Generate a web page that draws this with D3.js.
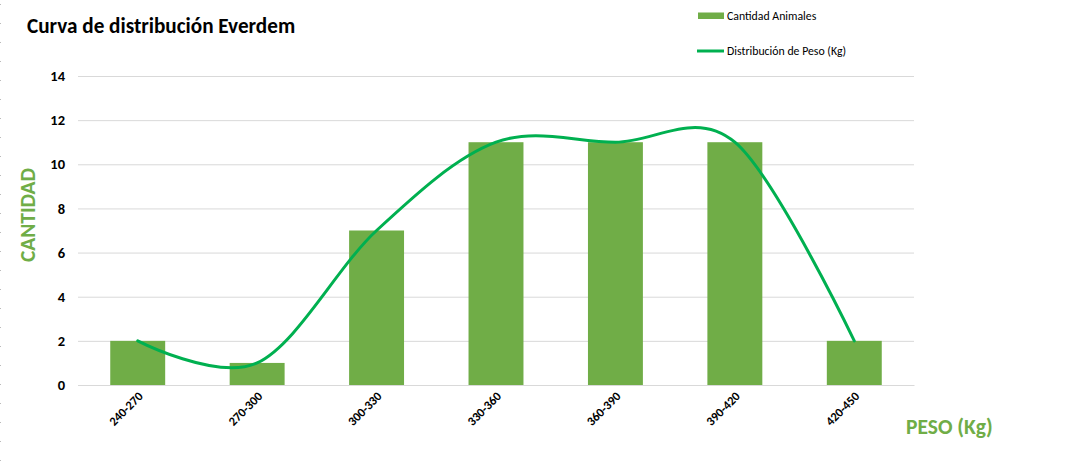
<!DOCTYPE html>
<html><head><meta charset="utf-8">
<script src="https://cdn.jsdelivr.net/npm/d3@7"></script>
<style>html,body{margin:0;padding:0;background:#fff;}svg{display:block;}</style>
</head><body>
<svg id="c" width="1089" height="471"></svg>
<script>
const categories = ["240-270","270-300","300-330","330-360","360-390","390-420","420-450"];
const cantidadAnimales = [2,1,7,11,11,11,2];
const distribucionPeso = [2,1,7,11,11,11,2];
const yTicks = [0,2,4,6,8,10,12,14];
const title = "Curva de distribución Everdem";
const seriesNames = ["Cantidad Animales","Distribución de Peso (Kg)"];

const W = 1089, H = 471;
const m = {left:78, right:914, top:76, bottom:385};
const svg = d3.select("#c");
const font = "Calibri, Carlito, 'Open Sans', sans-serif";

const x = d3.scaleBand().domain(categories).range([m.left, m.right]).paddingInner(0.54).paddingOuter(0.27);
const y = d3.scaleLinear().domain([0,14]).range([m.bottom, m.top]);

// left dotted edge
svg.append("line").attr("x1",0.5).attr("x2",0.5).attr("y1",0).attr("y2",H)
  .attr("stroke","#bbb").attr("stroke-dasharray","1 18").attr("stroke-dashoffset",-4);

// gridlines
const gy = svg.append("g").attr("transform",`translate(${m.left},0)`)
  .call(d3.axisLeft(y).tickValues(yTicks).tickSize(-(m.right-m.left)).tickFormat(d3.format("d")).tickPadding(13));
gy.select(".domain").remove();
gy.selectAll(".tick line").attr("stroke","#d9d9d9").attr("stroke-width",1);
gy.selectAll(".tick text").attr("font-family",font).attr("font-weight","bold").attr("font-size",14.5).attr("fill","#000");

// bars
svg.append("g").selectAll("rect").data(categories).join("rect")
  .attr("x", d=>x(d)).attr("width", x.bandwidth())
  .attr("y", (d,i)=>y(cantidadAnimales[i]))
  .attr("height",(d,i)=>y(0)-y(cantidadAnimales[i]))
  .attr("fill","#70AD47");

// x axis
const gx = svg.append("g").attr("transform",`translate(0,${m.bottom})`)
  .call(d3.axisBottom(x).tickSize(0).tickPadding(0));
gx.select(".domain").attr("stroke","#d9d9d9");
gx.selectAll(".tick text")
  .attr("font-family",font).attr("font-weight","bold").attr("font-size",12.5).attr("fill","#000")
  .attr("text-anchor","end").attr("dy",0).attr("y",0)
  .attr("transform","translate(6,12) rotate(-45)");

// smoothed line
const line = d3.line().x((d,i)=>x(categories[i])+x.bandwidth()/2).y(d=>y(d)).curve(d3.curveCardinal.tension(0));
svg.append("path").datum(distribucionPeso).attr("d",line)
  .attr("fill","none").attr("stroke","#00B050").attr("stroke-width",3).attr("stroke-linecap","round");

// title
svg.append("text").attr("x",27).attr("y",33).text(title)
  .attr("font-family",font).attr("font-weight","bold").attr("font-size",21.2).attr("fill","#000");

// axis titles
svg.append("text").attr("transform","translate(35,215) rotate(-90)").attr("text-anchor","middle")
  .text("CANTIDAD").attr("font-family",font).attr("font-weight","bold").attr("font-size",21.4).attr("fill","#70AD47");
svg.append("text").attr("x",906).attr("y",434).text("PESO (Kg)")
  .attr("font-family",font).attr("font-weight","bold").attr("font-size",21.5).attr("fill","#70AD47");

// legend
const lg = svg.append("g");
lg.append("rect").attr("x",698).attr("y",12.5).attr("width",26).attr("height",6.5).attr("fill","#70AD47");
lg.append("text").attr("x",727).attr("y",19.5).text(seriesNames[0])
  .attr("font-family",font).attr("font-size",11.8).attr("fill","#000");
lg.append("line").attr("x1",697).attr("x2",724).attr("y1",51).attr("y2",51)
  .attr("stroke","#00B050").attr("stroke-width",3);
lg.append("text").attr("x",727).attr("y",55).text(seriesNames[1])
  .attr("font-family",font).attr("font-size",11.8).attr("fill","#000");
</script>
</body></html>
